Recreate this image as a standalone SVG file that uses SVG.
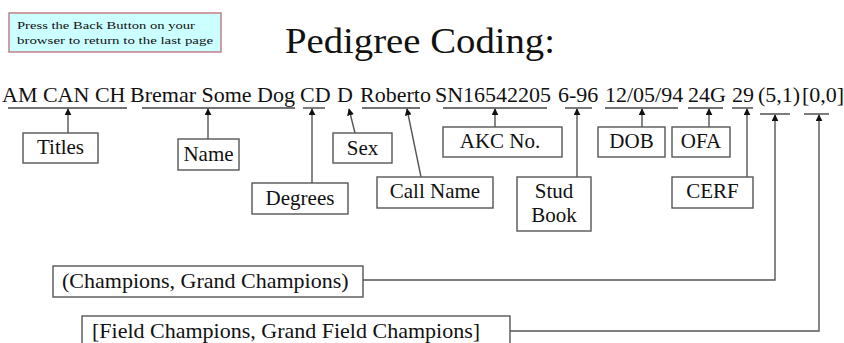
<svg xmlns="http://www.w3.org/2000/svg" width="844" height="343" viewBox="0 0 844 343">
<style>
  .main { font-size: 22px; }
  .lbl { font-size: 21px; text-anchor: middle; }
  .box { fill: #fff; stroke: #555; stroke-width: 1.4; }
  .ul { stroke: #444; stroke-width: 1.4; }
  .con { fill: none; stroke: #555; stroke-width: 1.4; marker-end: url(#ah); }
</style>
<defs>
  <marker id="ah" viewBox="0 0 10 10" refX="9" refY="5" markerWidth="7" markerHeight="7" markerUnits="userSpaceOnUse" orient="auto">
    <path d="M0,0 L10,5 L0,10 z" fill="#111"/>
  </marker>
</defs>
<rect width="844" height="343" fill="#fff"/>
<g font-family="'Liberation Serif', 'DejaVu Serif', serif" fill="#111">

<g id="note">
  <rect x="9" y="13" width="212" height="39" fill="#ccffff" stroke="#c06a78" stroke-width="1.3"/>
  <text x="17" y="29" font-size="11" textLength="178" lengthAdjust="spacingAndGlyphs">Press the Back Button on your</text>
  <text x="17" y="44" font-size="11" textLength="196" lengthAdjust="spacingAndGlyphs">browser to return to the last page</text>
</g>

<g id="title">
  <text x="285" y="53" font-size="36" textLength="270" lengthAdjust="spacingAndGlyphs">Pedigree Coding:</text>
</g>

<g id="code">
  <text class="main" x="2" y="102">AM CAN CH</text>
  <text class="main" x="130" y="102">Bremar Some Dog</text>
  <text class="main" x="300" y="102">CD</text>
  <text class="main" x="337" y="102">D</text>
  <text class="main" x="360" y="102">Roberto</text>
  <text class="main" x="435" y="102">SN16542205</text>
  <text class="main" x="558" y="102">6-96</text>
  <text class="main" x="605" y="102">12/05/94</text>
  <text class="main" x="688" y="102">24G</text>
  <text class="main" x="732" y="102">29</text>
  <text class="main" x="758" y="102">(5,1)</text>
  <text class="main" x="802" y="102">[0,0]</text>
  <line class="ul" x1="8" y1="108" x2="127" y2="108"/>
  <line class="ul" x1="142" y1="108" x2="295" y2="108"/>
  <line class="ul" x1="303" y1="108" x2="325" y2="108"/>
  <line class="ul" x1="362" y1="108" x2="420" y2="108"/>
  <line class="ul" x1="443" y1="108" x2="547" y2="108"/>
  <line class="ul" x1="565" y1="108" x2="592" y2="108"/>
  <line class="ul" x1="605" y1="108" x2="678" y2="108"/>
  <line class="ul" x1="688" y1="108" x2="723" y2="108"/>
  <line class="ul" x1="732" y1="108" x2="753" y2="108"/>
  <line class="ul" x1="760" y1="114" x2="790" y2="114"/>
  <line class="ul" x1="804" y1="114" x2="829" y2="114"/>
</g>

<g id="connectors">
  <line class="con" x1="68" y1="133" x2="68" y2="109"/>
  <line class="con" x1="208" y1="139" x2="208" y2="109"/>
  <line class="con" x1="312" y1="183" x2="312" y2="109"/>
  <line class="con" x1="355" y1="133" x2="349" y2="109"/>
  <line class="con" x1="421" y1="177" x2="407" y2="109"/>
  <line class="con" x1="495" y1="127" x2="495" y2="109"/>
  <line class="con" x1="577" y1="177" x2="577" y2="109"/>
  <line class="con" x1="642" y1="127" x2="642" y2="109"/>
  <line class="con" x1="709" y1="127" x2="709" y2="109"/>
  <line class="con" x1="747" y1="177" x2="747" y2="109"/>
  <polyline class="con" points="363,280 775,280 775,115"/>
  <polyline class="con" points="510,331 819,331 819,115"/>
</g>

<g id="titles"><rect class="box" x="23" y="133" width="75" height="30"/><text class="lbl" x="60.5" y="154">Titles</text></g>
<g id="name"><rect class="box" x="178" y="139" width="61" height="31"/><text class="lbl" x="208.5" y="161">Name</text></g>
<g id="degrees"><rect class="box" x="252" y="183" width="96" height="31"/><text class="lbl" x="300" y="205">Degrees</text></g>
<g id="sex"><rect class="box" x="333" y="133" width="59" height="30"/><text class="lbl" x="362.5" y="155">Sex</text></g>
<g id="callname"><rect class="box" x="377" y="177" width="116" height="31"/><text class="lbl" x="435" y="198">Call Name</text></g>
<g id="akc"><rect class="box" x="443" y="127" width="119" height="30"/><text class="lbl" x="500" y="148">AKC No.</text></g>
<g id="studbook"><rect class="box" x="517" y="177" width="74" height="54"/><text class="lbl" x="554" y="198">Stud</text><text class="lbl" x="554" y="222">Book</text></g>
<g id="dob"><rect class="box" x="598" y="127" width="67" height="30"/><text class="lbl" x="631.5" y="148">DOB</text></g>
<g id="ofa"><rect class="box" x="672" y="127" width="58" height="30"/><text class="lbl" x="701" y="148">OFA</text></g>
<g id="cerf"><rect class="box" x="672" y="177" width="81" height="31"/><text class="lbl" x="712.5" y="198">CERF</text></g>
<g id="champions"><rect class="box" x="53" y="266" width="310" height="31"/><text class="main" x="62" y="288" font-size="21">(Champions, Grand Champions)</text></g>
<g id="field"><rect class="box" x="82" y="316" width="428" height="40"/><text class="main" x="92" y="338" font-size="21">[Field Champions, Grand Field Champions]</text></g>
</g>
</svg>
